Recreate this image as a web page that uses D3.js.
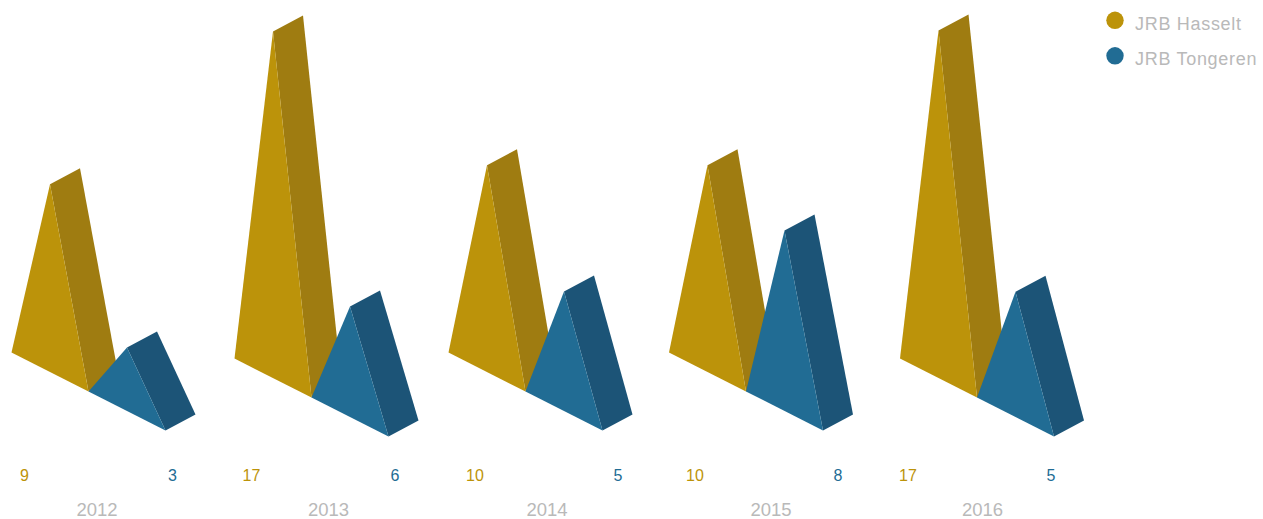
<!DOCTYPE html>
<html><head><meta charset="utf-8">
<script src="https://cdn.jsdelivr.net/npm/d3@7/dist/d3.min.js"></script>
<style>html,body{margin:0;padding:0;background:#fff;overflow:hidden}svg{display:block}text{font-family:"Liberation Sans",Arial,sans-serif}</style>
</head><body><div id="chart"></div>
<script>
const years = ["2012","2013","2014","2015","2016"];
const hassLabels = [9,17,10,10,17];
const tongLabels = [3,6,5,8,5];
// heights, in the same units as the labels
const hassHeights = [9.15,16.88,10.08,10.08,16.93];
const tongHeights = [3.09,5.38,5.82,8.8,6.1];
const seriesNames = ["JRB Hasselt","JRB Tongeren"];
const colors = ["#bc930a","#216c94"];
const sideColors = ["#9f7c11","#1c5477"];

const W=1263,H=519;
const svg=d3.select("#chart").append("svg").attr("width",W).attr("height",H);
const xStart=d3.scaleOrdinal().domain(years).range([11.5,234.5,448.5,669,900]);
const yStart=d3.scaleOrdinal().domain(years).range([352.5,358.5,352.5,352.5,358.5]);
const h=d3.scaleLinear().domain([0,1]).range([0,20.52]);
const bw=77, bs=39, dx=30, dy=-16;
const line=d3.line();

const marks=[];
years.forEach((y,i)=>{
  marks.push({y,s:0,v:hassHeights[i]});
  marks.push({y,s:1,v:tongHeights[i]});
});
const g=svg.selectAll("g.bar").data(marks).join("g").attr("class","bar");
function pts(d){
  const x0=xStart(d.y)+d.s*bw, y0=yStart(d.y)+d.s*bs;
  const x1=x0+bw, y1=y0+bs;
  const ax=(x0+x1)/2, ay=(y0+y1)/2-h(d.v);
  return {x0,y0,x1,y1,ax,ay};
}
g.append("path").attr("fill",d=>sideColors[d.s]).attr("d",d=>{const p=pts(d);
  return line([[p.ax,p.ay],[p.ax+dx,p.ay+dy],[p.x1+dx,p.y1+dy],[p.x1,p.y1]])+"Z";});
g.append("path").attr("fill",d=>colors[d.s]).attr("d",d=>{const p=pts(d);
  return line([[p.x0,p.y0],[p.ax,p.ay],[p.x1,p.y1]])+"Z";});

const labelX=[[24.5,172.5],[251.5,395],[475,618],[695,838],[908,1051]];
years.forEach((y,i)=>{
  svg.append("text").attr("x",labelX[i][0]).attr("y",481).attr("text-anchor","middle").attr("font-size",16).attr("fill",colors[0]).text(hassLabels[i]);
  svg.append("text").attr("x",labelX[i][1]).attr("y",481).attr("text-anchor","middle").attr("font-size",16).attr("fill",colors[1]).text(tongLabels[i]);
});
const yearX=d3.scaleOrdinal().domain(years).range([97,328.5,547,771,982.5]);
svg.selectAll("text.year").data(years).join("text").attr("class","year").attr("x",d=>yearX(d)).attr("y",516).attr("text-anchor","middle").attr("font-size",18.5).attr("fill","#b9b9b9").text(d=>d);

const leg=svg.selectAll("g.leg").data(seriesNames).join("g").attr("class","leg").attr("transform",(d,i)=>`translate(1115,${20.3+i*35.5})`);
leg.append("circle").attr("r",8.7).attr("fill",(d,i)=>colors[i]);
leg.append("text").attr("x",20).attr("y",9.2).attr("font-size",18).attr("letter-spacing",0.7).attr("fill","#b9b9b9").text(d=>d);
</script></body></html>
